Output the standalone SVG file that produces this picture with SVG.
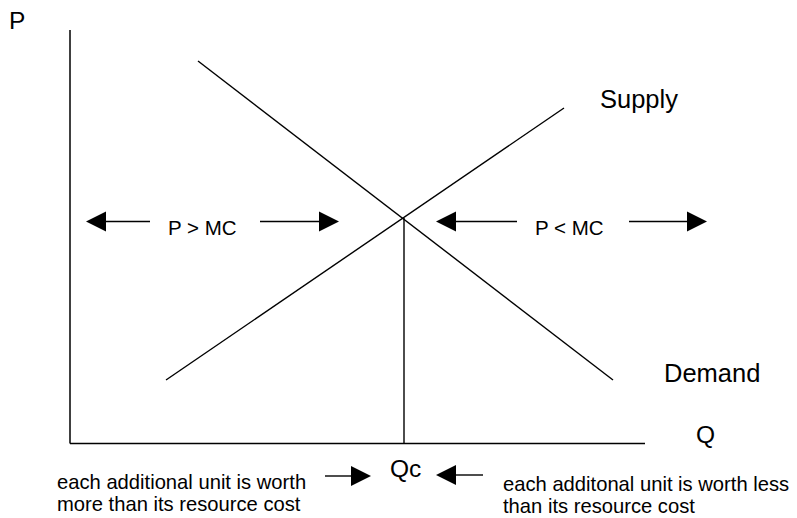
<svg xmlns="http://www.w3.org/2000/svg" width="797" height="518" viewBox="0 0 797 518">
<style>
.ln{stroke:#000;stroke-width:1.4;fill:none}
.ax{stroke:#000;stroke-width:1.5;fill:none}
.t{font-family:"Liberation Sans",Arial,sans-serif;fill:#000}
.big{font-size:25.5px}
.q{font-size:24.5px}
.med{font-size:20.5px}
.sm{font-size:20.2px}
.hd{fill:#000}
</style>
<rect width="797" height="518" fill="#fff"/>
<g id="axes">
<line class="ax" x1="70" y1="30" x2="70" y2="443.5"/>
<line class="ax" x1="70" y1="443.5" x2="645" y2="443.5"/>
<text class="t q" x="9" y="29">P</text>
<text class="t q" x="696" y="443">Q</text>
</g>
<g id="supply">
<line class="ln" x1="166" y1="380" x2="564" y2="108"/>
<text class="t big" x="600" y="108">Supply</text>
</g>
<g id="demand">
<line class="ln" x1="198" y1="61" x2="613" y2="380"/>
<text class="t big" x="664" y="382">Demand</text>
</g>
<g id="qc">
<line class="ln" x1="404" y1="218" x2="404" y2="443.5"/>
<text class="t q" x="390" y="477">Qc</text>
</g>
<g id="connectors">
<line class="ln" x1="104" y1="221.5" x2="150" y2="221.5"/>
<polygon class="hd" points="86,221.5 106,211.5 106,231.5"/>
<line class="ln" x1="260" y1="221.5" x2="321" y2="221.5"/>
<polygon class="hd" points="339,221.5 319,211.5 319,231.5"/>
<line class="ln" x1="454" y1="221.5" x2="517" y2="221.5"/>
<polygon class="hd" points="436,221.5 456,211.5 456,231.5"/>
<line class="ln" x1="629" y1="221.5" x2="689" y2="221.5"/>
<polygon class="hd" points="707,221.5 687,211.5 687,231.5"/>
<line class="ln" x1="325" y1="476" x2="353" y2="476"/>
<polygon class="hd" points="371,476 351,466 351,486"/>
<line class="ln" x1="454" y1="475" x2="483" y2="475"/>
<polygon class="hd" points="436,475 456,465 456,485"/>
</g>
<g id="labels">
<text class="t med" x="168" y="235">P &gt; MC</text>
<text class="t med" x="535" y="235">P &lt; MC</text>
<text class="t sm" x="57" y="489">each additional unit is worth</text>
<text class="t sm" x="57" y="511">more than its resource cost</text>
<text class="t sm" x="503" y="491">each additonal unit is worth less</text>
<text class="t sm" x="503" y="513">than its resource cost</text>
</g>
</svg>
